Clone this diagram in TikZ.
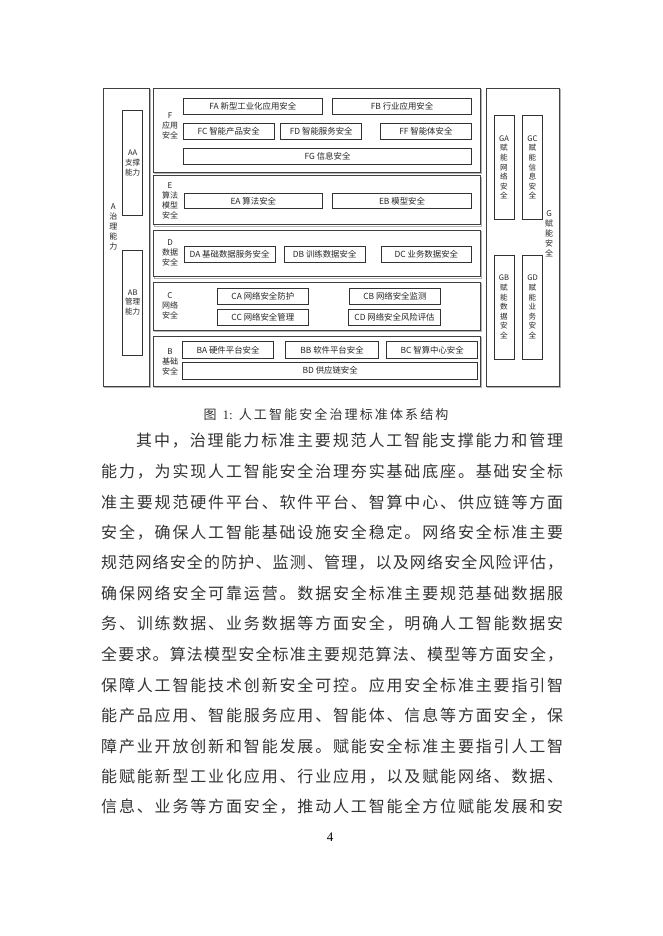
\documentclass[tikz,border=0pt]{standalone}
\usepackage{fontspec}
\setmainfont{Liberation Serif}
\newfontfamily\cjk{Noto Sans CJK SC}
\def\spx#1{#1\spy}
\def\spy#1{\ifx\relax#1\else\hfil#1\expandafter\spy\fi}
\tikzset{
  frm/.style={draw=black!75, line width=0.8pt, fill=white, inner sep=0pt, outer sep=0pt},
  shd/.style={draw=black!30, line width=1.2pt},
  ibox/.style={draw=black!80, line width=0.7pt, fill=white, inner sep=0pt, outer sep=0pt,
    font=\cjk\fontsize{8.4}{9.6}\selectfont, text=black!85, align=center},
  vbox/.style={ibox, font=\cjk\fontsize{7.6}{9.6}\selectfont},
  lbl/.style={inner sep=0pt, font=\cjk\fontsize{8}{10}\selectfont, text=black!85, align=center},
  bodyline/.style={anchor=west, inner sep=0pt, font=\cjk\fontsize{16}{16}\selectfont, text=black!80},
}
% style, name, x1, y1, x2, y2, text
\newcommand\boxat[7]{%
  \pgfmathsetmacro\bw{#5-#3}\pgfmathsetmacro\bh{#6-#4}%
  \node[#1, minimum width=\bw pt, minimum height=\bh pt] (#2) at ({(#3+#5)/2},{(#4+#6)/2}) {#7};}
\newcommand\frameat[5]{%
  \draw[shd] ({#2+1.5},{#3+1.5}) rectangle ({#4+1.5},{#5+1.5});
  \boxat{frm}{#1}{#2}{#3}{#4}{#5}{}}
% name, y, x, width, text
\newcommand\bodyl[5]{%
  \node[bodyline] (#1) at (#3,#2) {\makebox[#4pt][s]{\spx #5\relax}};}
\begin{document}
\begin{tikzpicture}[x=1pt,y=-1pt]
\useasboundingbox[fill=white] (0,0) rectangle (662,936);

% ---- A column
\frameat{A}{103}{88}{149}{386}
\boxat{vbox}{AA}{122.7}{110.7}{142.7}{215.3}{AA\\支撑\\能力}
\boxat{vbox}{AB}{122.7}{250}{142.7}{355}{AB\\管理\\能力}
\node[lbl] (Alab) at (113.3,226.5) {A\\治\\理\\能\\力};

% ---- F
\frameat{F}{153.3}{88}{480}{172.3}
\node[lbl] (Flab) at (170,126) {F\\应用\\安全};
\boxat{ibox}{FA}{183.3}{98.7}{322.3}{114}{FA 新型工业化应用安全}
\boxat{ibox}{FB}{332.3}{98.7}{471.7}{114}{FB 行业应用安全}
\boxat{ibox}{FC}{183.3}{123.7}{274}{139.7}{FC 智能产品安全}
\boxat{ibox}{FD}{280.7}{123.7}{361.7}{139.7}{FD 智能服务安全}
\boxat{ibox}{FF}{380}{123.7}{471.7}{139.7}{FF 智能体安全}
\boxat{ibox}{FG}{183.3}{148}{471.7}{164.7}{FG 信息安全}

% ---- E
\frameat{E}{153.3}{175.7}{480}{224.7}
\node[lbl] (Elab) at (170,200.5) {E\\算法\\模型\\安全};
\boxat{ibox}{EA}{184.3}{193}{322.3}{208.7}{EA 算法安全}
\boxat{ibox}{EB}{332.3}{193}{471.7}{208.7}{EB 模型安全}

% ---- D
\frameat{D}{153.3}{230}{480}{276.7}
\node[lbl] (Dlab) at (170,253.3) {D\\数据\\安全};
\boxat{ibox}{DA}{184}{246.7}{275}{262.3}{DA 基础数据服务安全}
\boxat{ibox}{DB}{284.3}{246.7}{365}{262.3}{DB 训练数据安全}
\boxat{ibox}{DC}{381}{246.7}{471.7}{262.3}{DC 业务数据安全}

% ---- C
\frameat{C}{153.3}{282.3}{480}{330}
\node[lbl] (Clab) at (170,305.7) {C\\网络\\安全};
\boxat{ibox}{CA}{217.3}{288.3}{308.3}{304.3}{CA 网络安全防护}
\boxat{ibox}{CB}{349}{288.3}{440.7}{304.3}{CB 网络安全监测}
\boxat{ibox}{CC}{217.3}{309}{308.3}{325}{CC 网络安全管理}
\boxat{ibox}{CD}{348.3}{309}{440.7}{325}{CD 网络安全风险评估}

% ---- B
\frameat{B}{153.3}{336}{480}{386}
\node[lbl] (Blab) at (170,361.7) {B\\基础\\安全};
\boxat{ibox}{BA}{182.7}{341.7}{273.3}{358.3}{BA 硬件平台安全}
\boxat{ibox}{BB}{285.7}{341.7}{378.3}{358.3}{BB 软件平台安全}
\boxat{ibox}{BC}{386.7}{341.7}{477.7}{358.3}{BC 智算中心安全}
\boxat{ibox}{BD}{182.7}{362.3}{477.7}{379}{BD 供应链安全}

% ---- G
\frameat{G}{486}{88}{559.3}{386}
\node[lbl] (Glab) at (549,234) {G\\赋\\能\\安\\全};
\boxat{vbox}{GA}{494}{115.3}{514}{219.7}{GA\\赋\\能\\网\\络\\安\\全}
\boxat{vbox}{GC}{522.3}{115.3}{542.7}{219.7}{GC\\赋\\能\\信\\息\\安\\全}
\boxat{vbox}{GB}{494}{255}{514}{359.3}{GB\\赋\\能\\数\\据\\安\\全}
\boxat{vbox}{GD}{522.3}{255}{542.7}{359.3}{GD\\赋\\能\\业\\务\\安\\全}

% ---- caption
\node[inner sep=0pt, text=black!80] (cap) at (326,414) {\cjk\fontsize{13}{13}\selectfont
  \makebox[245pt][s]{图\hspace{4pt plus 1fil}{\rmfamily 1:}\hspace{4pt plus 1fil}\spx 人工智能安全治理标准体系结构\relax}};

% ---- body
\bodyl{L1}{441}{136}{427}{其中，治理能力标准主要规范人工智能支撑能力和管理}
\bodyl{L2}{471.5}{101}{462}{能力，为实现人工智能安全治理夯实基础底座。基础安全标}
\bodyl{L3}{502}{101}{462}{准主要规范硬件平台、软件平台、智算中心、供应链等方面}
\bodyl{L4}{532.5}{101}{462}{安全，确保人工智能基础设施安全稳定。网络安全标准主要}
\bodyl{L5}{563}{101}{462}{规范网络安全的防护、监测、管理，以及网络安全风险评估，}
\bodyl{L6}{593.5}{101}{462}{确保网络安全可靠运营。数据安全标准主要规范基础数据服}
\bodyl{L7}{624}{101}{462}{务、训练数据、业务数据等方面安全，明确人工智能数据安}
\bodyl{L8}{654.5}{101}{462}{全要求。算法模型安全标准主要规范算法、模型等方面安全，}
\bodyl{L9}{685}{101}{462}{保障人工智能技术创新安全可控。应用安全标准主要指引智}
\bodyl{L10}{715.5}{101}{462}{能产品应用、智能服务应用、智能体、信息等方面安全，保}
\bodyl{L11}{746}{101}{462}{障产业开放创新和智能发展。赋能安全标准主要指引人工智}
\bodyl{L12}{776.5}{101}{462}{能赋能新型工业化应用、行业应用，以及赋能网络、数据、}
\bodyl{L13}{807}{101}{462}{信息、业务等方面安全，推动人工智能全方位赋能发展和安}

\node[inner sep=0pt, font=\rmfamily\fontsize{13}{13}\selectfont] (pg) at (330,837) {4};
\end{tikzpicture}
\end{document}
